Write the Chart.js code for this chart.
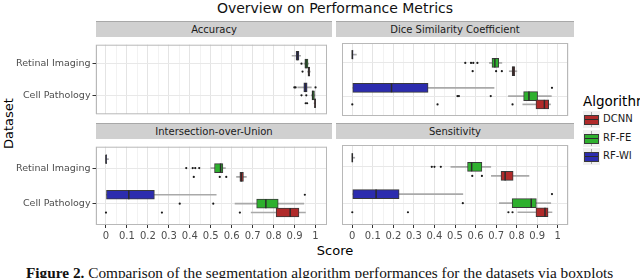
<!DOCTYPE html>
<html>
<head>
<meta charset="utf-8">
<script src="https://cdn.jsdelivr.net/npm/chart.js@4"></script>
<style>
  html, body { margin: 0; padding: 0; background: #fff; }
  body { width: 640px; height: 278px; position: relative; overflow: hidden; font-family: "DejaVu Sans", sans-serif; }
  canvas { position: absolute; }
  .abs { position: absolute; white-space: nowrap; }
  .strip { position: absolute; height: 16px; background: #d0d0d0; border-top: 1px solid #a8a8a8; box-sizing: border-box;
           font-size: 10px; color: #1a1a1a; text-align: center; line-height: 15px; }
  .key { position: absolute; left: 583px; width: 17px; height: 17px; background: #f0f0f0; }
  .key .wh { position: absolute; left: 8px; top: 1px; width: 1px; height: 15px; background: #a9a9a9; }
  .key .bx { position: absolute; left: 1px; top: 4px; width: 13px; height: 8px; border: 1px solid #3a3a3a; }
  .key .md { position: absolute; left: 2px; top: 8px; width: 13px; height: 1px; background: #2b2b2b; }
  .klab { position: absolute; left: 603px; font-size: 10px; color: #1a1a1a; }
</style>
</head>
<body>
<div class="abs" style="left:0;width:670px;top:0;text-align:center;font-size:14px;color:#111;">Overview on Performance Metrics</div>
<div class="abs" style="left:-22px;top:116px;width:60px;text-align:center;font-size:13px;transform:rotate(-90deg);">Dataset</div>

<div class="strip" style="left:96px;top:21px;width:236px;">Accuracy</div>
<div class="strip" style="left:336px;top:21px;width:238px;">Dice Similarity Coefficient</div>
<div class="strip" style="left:96px;top:123px;width:236px;">Intersection-over-Union</div>
<div class="strip" style="left:336px;top:123px;width:238px;">Sensitivity</div>

<canvas id="pAcc" width="332" height="85" style="left:0;top:37px;"></canvas>
<canvas id="pDice" width="238" height="85" style="left:336px;top:37px;"></canvas>
<canvas id="pIou" width="332" height="104" style="left:0;top:139px;"></canvas>
<canvas id="pSens" width="238" height="104" style="left:336px;top:139px;"></canvas>

<div class="abs" style="left:305px;top:243px;width:60px;text-align:center;font-size:13px;">Score</div>

<div class="abs" style="left:583px;top:93px;font-size:13.5px;">Algorithm</div>
<div id="legend"></div>

<div class="abs" style="left:26px;top:264px;font-family:'Liberation Serif',serif;font-size:15.3px;color:#111;"><b>Figure 2.</b> Comparison of the segmentation algorithm performances for the datasets via boxplots</div>

<script>
// rows of each panel (top to bottom) and the groups in legend order
const datasets = ['Retinal Imaging', 'Cell Pathology'];
const algorithms = ['DCNN', 'RF-FE', 'RF-WI'];
const algoColors = ['#b02a2a', '#2eb02e', '#2c2cae'];

// x axis ticks
const xTicks = [0, 0.1, 0.2, 0.3, 0.4, 0.5, 0.6, 0.7, 0.8, 0.9, 1];
const xTickLabels = ['0', '0.1', '0.2', '0.3', '0.4', '0.5', '0.6', '0.7', '0.8', '0.9', '1'];

// box stats per dataset: [lower whisker, q1, median, q3, upper whisker]
const accDCNN = [[0.962, 0.964, 0.968, 0.972, 0.975], [0.993, 0.995, 0.998, 1.0, 1.0]];
const accRFFE = [[0.945, 0.949, 0.955, 0.964, 0.967], [0.980, 0.983, 0.987, 0.995, 0.998]];
const accRFWI = [[0.888, 0.907, 0.914, 0.921, 0.929], [0.915, 0.944, 0.952, 0.960, 0.980]];
const diceDCNN = [[0.764, 0.778, 0.783, 0.791, 0.801], [0.830, 0.894, 0.935, 0.956, 0.965]];
const diceRFFE = [[0.667, 0.680, 0.694, 0.713, 0.728], [0.760, 0.834, 0.860, 0.902, 0.969]];
const diceRFWI = [[0, 0, 0, 0.004, 0.02], [0, 0, 0.191, 0.369, 0.690]];
const iouDCNN = [[0.623, 0.639, 0.646, 0.656, 0.670], [0.693, 0.812, 0.879, 0.921, 0.952]];
const iouRFFE = [[0.500, 0.518, 0.547, 0.558, 0.570], [0.616, 0.719, 0.763, 0.822, 0.944]];
const iouRFWI = [[0, 0, 0, 0.003, 0.012], [0, 0, 0.109, 0.231, 0.526]];
const sensDCNN = [[0.677, 0.724, 0.744, 0.783, 0.860], [0.806, 0.894, 0.938, 0.953, 0.972]];
const sensRFFE = [[0.480, 0.561, 0.581, 0.631, 0.674], [0.716, 0.778, 0.871, 0.896, 0.966]];
const sensRFWI = [[0, 0, 0, 0.003, 0.012], [0, 0, 0.116, 0.228, 0.538]];

// outliers per dataset
const accDCNNOut = [[0.938], [0.953, 0.960]];
const accRFFEOut = [[0.933], [0.933, 0.956]];
const accRFWIOut = [[], [0.899, 0.905, 1.0]];
const diceDCNNOut = [[0.586, 0.700, 0.728], [0, 0.415, 0.780]];
const diceRFFEOut = [[0.550, 0.578, 0.589, 0.609], [0.512, 0.519, 0.674]];
const diceRFWIOut = [[], [0.972]];
const iouDCNNOut = [[0.419, 0.543, 0.574], [0, 0.267, 0.639]];
const iouRFFEOut = [[0.383, 0.414, 0.426, 0.445], [0.352, 0.512]];
const iouRFWIOut = [[], [0.949]];
const sensDCNNOut = [[0.584, 0.631], [0, 0.271, 0.760, 0.780]];
const sensRFFEOut = [[0.387, 0.400, 0.431], [0.538]];
const sensRFWIOut = [[], [0.972]];

// legend
const legend = document.getElementById('legend');
algorithms.forEach((name, i) => {
    const top = 111 + i * 18.5;
    legend.insertAdjacentHTML('beforeend',
        '<div class="key" style="top:' + top + 'px"><div class="wh"></div>' +
        '<div class="bx" style="background:' + algoColors[i] + '"></div><div class="md"></div></div>' +
        '<div class="klab" style="top:' + (top + 2) + 'px">' + name + '</div>');
});

const isMajor = v => Math.abs(Math.round(v * 100)) % 10 === 0;

// outline around each panel
const panelBorder = {
    id: 'panelBorder',
    afterDraw(chart) {
        const a = chart.chartArea, c = chart.ctx;
        c.save();
        c.strokeStyle = '#b8b8b8';
        c.lineWidth = 1;
        c.strokeRect(Math.round(a.left) + 0.5, a.top + 0.5, Math.round(a.right - a.left) - 1, a.bottom - a.top - 1);
        c.restore();
    }
};

function makePanel(id, stats, outs, showX, showY) {
    const ds = [];
    algorithms.forEach((name, ai) => {
        const dodge = (1 - ai) * 0.25;
        const s = stats[ai], o = outs[ai];
        ds.push({
            type: 'bar', indexAxis: 'y', grouped: false, order: 3,
            data: s.map((r, ri) => ({ x: [r[0], r[4]], y: ri + 1 + dodge })),
            backgroundColor: '#a9a9a9', barThickness: 1, borderWidth: 0
        });
        ds.push({
            type: 'bar', indexAxis: 'y', grouped: false, order: 2,
            data: s.map((r, ri) => ({ x: [r[1], r[3]], y: ri + 1 + dodge })),
            backgroundColor: algoColors[ai], borderColor: '#3a3a3a', borderWidth: 1,
            borderSkipped: false, barThickness: 9
        });
        ds.push({
            type: 'scatter', order: 1,
            data: s.map((r, ri) => ({ x: r[2], y: ri + 1 + dodge })),
            pointStyle: 'line', rotation: 90, pointRadius: 4.5, borderColor: '#2b2b2b', borderWidth: 1.5
        });
        const pts = [];
        o.forEach((row, ri) => row.forEach(v => pts.push({ x: v, y: ri + 1 + dodge })));
        ds.push({
            type: 'scatter', order: 1, data: pts,
            pointRadius: 1.1, backgroundColor: '#1a1a1a', borderWidth: 0
        });
    });

    // grid runs at the ticks and half way between them
    const gridVals = [xTicks[0] - 0.05];
    xTicks.forEach(v => { gridVals.push(v); gridVals.push(+(v + 0.05).toFixed(2)); });

    return new Chart(document.getElementById(id), {
        type: 'bar',
        data: { datasets: ds },
        plugins: [panelBorder],
        options: {
            responsive: false,
            animation: false,
            indexAxis: 'y',
            layout: { padding: 0 },
            plugins: { legend: { display: false }, tooltip: { enabled: false } },
            scales: {
                x: {
                    type: 'linear', position: 'bottom', min: -0.05, max: 1.05, offset: false,
                    afterBuildTicks: sc => { sc.ticks = gridVals.map(v => ({ value: v })); },
                    afterFit: sc => { sc.height = showX ? 18 : 0; },
                    border: { display: false },
                    grid: {
                        offset: false,
                        color: c => isMajor(c.tick.value) ? '#e4e4e4' : '#f2f2f2',
                        tickColor: c => isMajor(c.tick.value) ? '#333' : 'rgba(0,0,0,0)',
                        drawTicks: showX, tickLength: 3
                    },
                    ticks: {
                        display: showX, autoSkip: false, maxRotation: 0, padding: 2,
                        color: '#4d4d4d', font: { family: 'DejaVu Sans', size: 10 },
                        callback: v => {
                            const i = xTicks.findIndex(t => Math.abs(t - v) < 1e-6);
                            return i >= 0 ? xTickLabels[i] : '';
                        }
                    }
                },
                y: {
                    type: 'linear', position: 'left', min: 0.4, max: 2.6, reverse: true, offset: false,
                    afterBuildTicks: sc => { sc.ticks = datasets.map((d, i) => ({ value: i + 1 })); },
                    afterFit: sc => { sc.width = showY ? 95.5 : 0; },
                    border: { display: false },
                    grid: { offset: false, color: '#e8e8e8', tickColor: '#333', drawTicks: showY, tickLength: 3 },
                    ticks: {
                        display: showY, padding: 2, color: '#4d4d4d',
                        font: { family: 'DejaVu Sans', size: 9.5 },
                        callback: v => datasets[Math.round(v) - 1]
                    }
                }
            }
        }
    });
}

makePanel('pAcc', [accDCNN, accRFFE, accRFWI], [accDCNNOut, accRFFEOut, accRFWIOut], false, true);
makePanel('pDice', [diceDCNN, diceRFFE, diceRFWI], [diceDCNNOut, diceRFFEOut, diceRFWIOut], false, false);
makePanel('pIou', [iouDCNN, iouRFFE, iouRFWI], [iouDCNNOut, iouRFFEOut, iouRFWIOut], true, true);
makePanel('pSens', [sensDCNN, sensRFFE, sensRFWI], [sensDCNNOut, sensRFFEOut, sensRFWIOut], true, false);
</script>
</body>
</html>
